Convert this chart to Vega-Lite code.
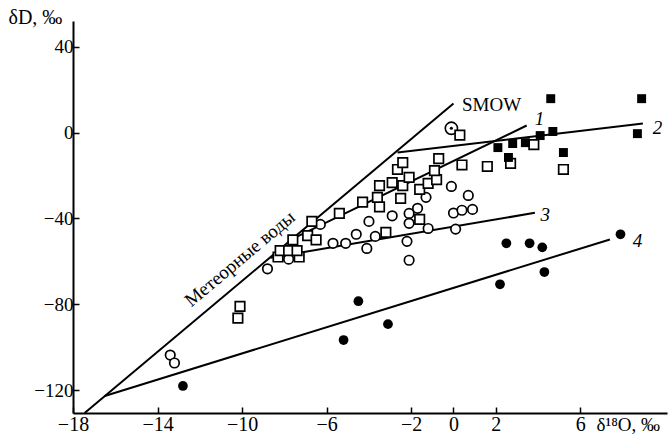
{
  "$schema": "https://vega.github.io/schema/vega-lite/v6.json",
  "autosize": {"type": "none"},
  "width": 594,
  "height": 392,
  "padding": {"left": 73, "top": 21, "right": 1, "bottom": 23},
  "background": "white",
  "config": {
    "view": {"stroke": null},
    "axis": {
      "grid": false,
      "domainColor": "black",
      "domainWidth": 2,
      "tickColor": "black",
      "tickWidth": 1.5,
      "labelColor": "black",
      "labelFont": "Liberation Serif",
      "titleFont": "Liberation Serif",
      "titleColor": "black",
      "titleFontWeight": "normal"
    }
  },
  "datasets": {
    "pts": [
      {"x": -13.4, "y": -103.7, "t": "oc"}, {"x": -13.2, "y": -107.4, "t": "oc"},
      {"x": -8.8, "y": -63.5, "t": "oc"}, {"x": -7.8, "y": -59, "t": "oc"},
      {"x": -6.3, "y": -42.8, "t": "oc"}, {"x": -5.7, "y": -51.6, "t": "oc"},
      {"x": -5.1, "y": -51.6, "t": "oc"}, {"x": -4.6, "y": -47.4, "t": "oc"},
      {"x": -4.1, "y": -54, "t": "oc"}, {"x": -4.0, "y": -41.4, "t": "oc"},
      {"x": -3.7, "y": -48.4, "t": "oc"}, {"x": -2.9, "y": -38.8, "t": "oc"},
      {"x": -2.1, "y": -37.7, "t": "oc"}, {"x": -1.7, "y": -35.3, "t": "oc"},
      {"x": -2.1, "y": -42.3, "t": "oc"}, {"x": -1.2, "y": -44.7, "t": "oc"},
      {"x": -2.2, "y": -50.7, "t": "oc"}, {"x": -2.1, "y": -59.5, "t": "oc"},
      {"x": -1.3, "y": -30.2, "t": "oc"}, {"x": -0.1, "y": -25.1, "t": "oc"},
      {"x": 0.7, "y": -29.3, "t": "oc"}, {"x": 0.1, "y": -45, "t": "oc"},
      {"x": 0.0, "y": -37.5, "t": "oc"}, {"x": 0.4, "y": -36.2, "t": "oc"},
      {"x": 0.9, "y": -35.8, "t": "oc"},
      {"x": -10.1, "y": -81, "t": "os"}, {"x": -10.2, "y": -86.5, "t": "os"},
      {"x": -8.3, "y": -58, "t": "os"}, {"x": -8.2, "y": -55, "t": "os"},
      {"x": -7.8, "y": -55, "t": "os"}, {"x": -7.3, "y": -58, "t": "os"},
      {"x": -7.4, "y": -55, "t": "os"}, {"x": -7.6, "y": -50, "t": "os"},
      {"x": -6.9, "y": -48, "t": "os"}, {"x": -6.5, "y": -50, "t": "os"},
      {"x": -6.7, "y": -41.4, "t": "os"}, {"x": -5.4, "y": -37.7, "t": "os"},
      {"x": -4.3, "y": -32.4, "t": "os"}, {"x": -3.5, "y": -34.6, "t": "os"},
      {"x": -3.2, "y": -46.5, "t": "os"}, {"x": -3.6, "y": -30.2, "t": "os"},
      {"x": -3.5, "y": -24.7, "t": "os"}, {"x": -2.9, "y": -23.3, "t": "os"},
      {"x": -2.4, "y": -24.7, "t": "os"}, {"x": -2.1, "y": -20.9, "t": "os"},
      {"x": -2.5, "y": -30.7, "t": "os"}, {"x": -2.65, "y": -17.2, "t": "os"},
      {"x": -2.4, "y": -14, "t": "os"}, {"x": -1.6, "y": -26.5, "t": "os"},
      {"x": -1.2, "y": -23.7, "t": "os"}, {"x": -0.8, "y": -21.9, "t": "os"},
      {"x": -0.9, "y": -17.7, "t": "os"}, {"x": -0.7, "y": -12.1, "t": "os"},
      {"x": 0.4, "y": -15.1, "t": "os"}, {"x": 0.3, "y": -1.2, "t": "os"},
      {"x": -1.6, "y": -40.5, "t": "os"}, {"x": 1.6, "y": -15.8, "t": "os"},
      {"x": 2.7, "y": -14.4, "t": "os"}, {"x": 3.8, "y": -5.6, "t": "os"},
      {"x": 5.2, "y": -17.2, "t": "os"},
      {"x": 4.6, "y": 15.8, "t": "fs"}, {"x": 8.9, "y": 15.8, "t": "fs"},
      {"x": 8.7, "y": -0.5, "t": "fs"}, {"x": 5.2, "y": -9.3, "t": "fs"},
      {"x": 2.1, "y": -7, "t": "fs"}, {"x": 2.8, "y": -5.1, "t": "fs"},
      {"x": 3.4, "y": -4.7, "t": "fs"}, {"x": 4.1, "y": -1.4, "t": "fs"},
      {"x": 4.7, "y": 0.5, "t": "fs"}, {"x": 2.6, "y": -11.6, "t": "fs"},
      {"x": -12.8, "y": -118.1, "t": "fc"}, {"x": -5.2, "y": -96.7, "t": "fc"},
      {"x": -4.5, "y": -78.6, "t": "fc"}, {"x": -3.1, "y": -89.3, "t": "fc"},
      {"x": 2.2, "y": -70.7, "t": "fc"}, {"x": 2.5, "y": -51.6, "t": "fc"},
      {"x": 3.6, "y": -51.6, "t": "fc"}, {"x": 4.2, "y": -53.5, "t": "fc"},
      {"x": 4.3, "y": -65, "t": "fc"}, {"x": 7.9, "y": -47.4, "t": "fc"}
    ],
    "lines": [
      {"s": "m", "o": 0, "x": -17.45, "y": -130.7}, {"s": "m", "o": 1, "x": 0.0, "y": 13.5},
      {"s": "1", "o": 0, "x": -7.5, "y": -49}, {"s": "1", "o": 1, "x": 3.46, "y": 3.3},
      {"s": "2", "o": 0, "x": -2.65, "y": -9.3}, {"s": "2", "o": 1, "x": 8.96, "y": 4.2},
      {"s": "3", "o": 0, "x": -8.65, "y": -58.3}, {"s": "3", "o": 1, "x": 3.85, "y": -37.4},
      {"s": "4", "o": 0, "x": -16.5, "y": -122.8}, {"s": "4", "o": 1, "x": 7.4, "y": -49.8}
    ],
    "nums": [
      {"x": 3.84, "y": 6.5, "label": "1"},
      {"x": 9.43, "y": 1.9, "label": "2"},
      {"x": 4.12, "y": -38.5, "label": "3"},
      {"x": 8.48, "y": -50.5, "label": "4"}
    ],
    "smow": [{"x": -0.1, "y": 2}],
    "smowLabel": [{"x": 0.4, "y": 10.2, "label": "SMOW"}],
    "met": [{"x": -10.1, "y": -58.8, "label": "Метеорные воды"}]
  },
  "encoding": {
    "x": {
      "field": "x", "type": "quantitative",
      "scale": {"domain": [-18, 10.1], "nice": false, "zero": false},
      "axis": {
        "values": [-18, -14, -10, -6, -2, 0, 2, 6],
        "tickSize": -6,
        "labelFontSize": 20,
        "labelPadding": 7,
        "labelFlush": false,
        "labelOverlap": false,
        "title": "δ¹⁸O, ‰",
        "titleFontSize": 19,
        "titleAnchor": "start",
        "titleAlign": "left",
        "titleBaseline": "alphabetic",
        "titleX": 523,
        "titleY": 17
      }
    },
    "y": {
      "field": "y", "type": "quantitative",
      "scale": {"domain": [-130.7, 52], "nice": false, "zero": false},
      "axis": {
        "values": [40, 0, -40, -80, -120],
        "tickSize": -6,
        "labelFontSize": 19,
        "labelPadding": 6,
        "labelOverlap": false,
        "title": "δD, ‰",
        "titleFontSize": 20,
        "titleAngle": 0,
        "titleAlign": "left",
        "titleBaseline": "alphabetic",
        "titleX": -65,
        "titleY": 2
      }
    }
  },
  "layer": [
    {
      "data": {"name": "lines"},
      "mark": {"type": "line", "color": "black", "strokeWidth": 2},
      "encoding": {"detail": {"field": "s"}, "order": {"field": "o"}}
    },
    {
      "data": {"name": "smow"},
      "mark": {"type": "point", "shape": "circle", "filled": false, "stroke": "black", "strokeWidth": 1.6, "size": 150, "opacity": 1}
    },
    {
      "data": {"name": "smow"},
      "mark": {"type": "point", "shape": "circle", "filled": true, "color": "black", "size": 10, "opacity": 1}
    },
    {
      "data": {"name": "pts"},
      "transform": [{"filter": "datum.t === 'oc'"}],
      "mark": {"type": "point", "shape": "circle", "filled": true, "fill": "white", "stroke": "black", "strokeWidth": 1.7, "size": 90, "opacity": 1}
    },
    {
      "data": {"name": "pts"},
      "transform": [{"filter": "datum.t === 'os'"}],
      "mark": {"type": "point", "shape": "square", "filled": true, "fill": "white", "stroke": "black", "strokeWidth": 1.7, "size": 90, "opacity": 1}
    },
    {
      "data": {"name": "pts"},
      "transform": [{"filter": "datum.t === 'fs'"}],
      "mark": {"type": "point", "shape": "square", "filled": true, "color": "black", "size": 80, "opacity": 1}
    },
    {
      "data": {"name": "pts"},
      "transform": [{"filter": "datum.t === 'fc'"}],
      "mark": {"type": "point", "shape": "circle", "filled": true, "color": "black", "size": 95, "opacity": 1}
    },
    {
      "data": {"name": "nums"},
      "mark": {"type": "text", "font": "Liberation Serif", "fontStyle": "italic", "fontSize": 19, "align": "left", "baseline": "middle", "color": "black"},
      "encoding": {"text": {"field": "label"}}
    },
    {
      "data": {"name": "smowLabel"},
      "mark": {"type": "text", "font": "Liberation Serif", "fontSize": 19, "align": "left", "baseline": "alphabetic", "color": "black"},
      "encoding": {"text": {"field": "label"}}
    },
    {
      "data": {"name": "met"},
      "mark": {"type": "text", "font": "Liberation Serif", "fontSize": 19, "angle": -40, "align": "center", "baseline": "middle", "color": "black"},
      "encoding": {"text": {"field": "label"}}
    }
  ]
}
